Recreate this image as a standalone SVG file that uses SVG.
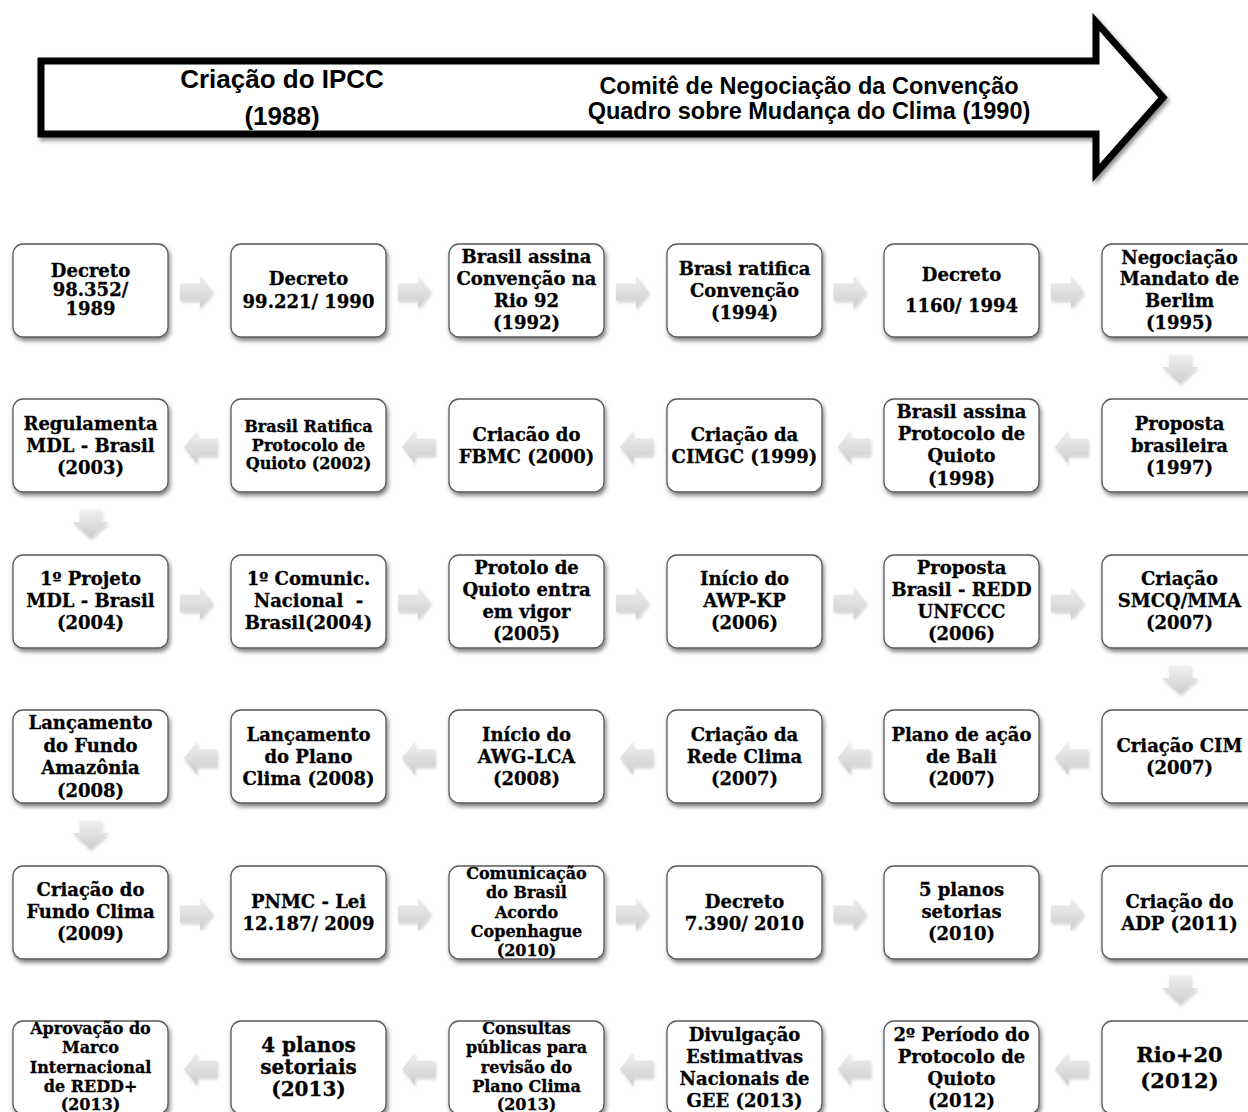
<svg xmlns="http://www.w3.org/2000/svg" width="1248" height="1112" viewBox="0 0 1248 1112">
  <defs>
    <style>
      .box { fill: #ffffff; stroke: #5a5a5a; stroke-width: 1.3; filter: url(#shadow); }
      .t { font-family: "DejaVu Serif", "Liberation Serif", serif; font-weight: bold; font-size: 18px; text-anchor: middle; fill: #000; stroke: #000; stroke-width: 0.3; }
      .s16 { font-size: 16px; }
      .s21 { font-size: 21px; }
      .s20 { font-size: 20px; }
      .head { font-family: "Liberation Sans", Arial, sans-serif; font-weight: bold; text-anchor: middle; fill: #000; }
      .conn { fill: url(#arrowGrad); filter: url(#ashadow); }
    </style>
    <filter id="shadow" x="-10%" y="-10%" width="130%" height="130%">
      <feDropShadow dx="1.5" dy="3" stdDeviation="2" flood-color="#000" flood-opacity="0.5"/>
    </filter>
    <filter id="ashadow" x="-20%" y="-20%" width="150%" height="150%">
      <feDropShadow dx="1" dy="2" stdDeviation="1.5" flood-color="#000" flood-opacity="0.18"/>
    </filter>
    <filter id="bigshadow" x="-5%" y="-10%" width="110%" height="130%">
      <feDropShadow dx="2" dy="3" stdDeviation="2" flood-color="#000" flood-opacity="0.45"/>
    </filter>
    <linearGradient id="arrowGrad" x1="0" y1="0" x2="0" y2="1">
      <stop offset="0" stop-color="#f0f0f0"/>
      <stop offset="1" stop-color="#cdcdcd"/>
    </linearGradient>
    <path id="ar" d="M-16.5,-8.5 H3.5 V-16.5 L16.5,0 L3.5,16.5 V8.5 H-16.5 Z"/>
    <path id="al" d="M16.5,-8.5 H-3.5 V-16.5 L-16.5,0 L-3.5,16.5 V8.5 H16.5 Z"/>
    <path id="ad" d="M-11,-14.5 H11 V-2 H18 L0,14.5 L-18,-2 H-11 Z"/>
  </defs>

  <rect width="1248" height="1112" fill="#ffffff"/>

  <!-- timeline banner arrow -->
  <g id="banner">
    <path d="M41,61 H1096 V22 L1163,97.5 L1096,173 V134 H41 Z" fill="#ffffff" stroke="#000" stroke-width="7" stroke-linejoin="miter" filter="url(#bigshadow)"/>
    <text class="head" font-size="26" x="282" y="88">Criação do IPCC</text>
    <text class="head" font-size="26" x="282" y="125">(1988)</text>
    <text class="head" font-size="23.5" x="809" y="94">Comitê de Negociação da Convenção</text>
    <text class="head" font-size="23.5" x="809" y="119">Quadro sobre Mudança do Clima (1990)</text>
  </g>

  <!-- connectors between timeline steps -->
  <g id="connectors">
    <!-- row 1, left to right -->
    <use href="#ar" class="conn" x="196.5" y="292"/>
    <use href="#ar" class="conn" x="414.5" y="292"/>
    <use href="#ar" class="conn" x="632.5" y="292"/>
    <use href="#ar" class="conn" x="850" y="292"/>
    <use href="#ar" class="conn" x="1067.5" y="292"/>
    <use href="#ad" class="conn" x="1180" y="369"/>
    <!-- row 2, right to left -->
    <use href="#al" class="conn" x="1071.5" y="447"/>
    <use href="#al" class="conn" x="854" y="447"/>
    <use href="#al" class="conn" x="636.5" y="447"/>
    <use href="#al" class="conn" x="418.5" y="447"/>
    <use href="#al" class="conn" x="200.5" y="447"/>
    <use href="#ad" class="conn" x="90.5" y="524"/>
    <!-- row 3 -->
    <use href="#ar" class="conn" x="196.5" y="603"/>
    <use href="#ar" class="conn" x="414.5" y="603"/>
    <use href="#ar" class="conn" x="632.5" y="603"/>
    <use href="#ar" class="conn" x="850" y="603"/>
    <use href="#ar" class="conn" x="1067.5" y="603"/>
    <use href="#ad" class="conn" x="1180" y="680"/>
    <!-- row 4 -->
    <use href="#al" class="conn" x="1071.5" y="758"/>
    <use href="#al" class="conn" x="854" y="758"/>
    <use href="#al" class="conn" x="636.5" y="758"/>
    <use href="#al" class="conn" x="418.5" y="758"/>
    <use href="#al" class="conn" x="200.5" y="758"/>
    <use href="#ad" class="conn" x="90.5" y="835"/>
    <!-- row 5 -->
    <use href="#ar" class="conn" x="196.5" y="914"/>
    <use href="#ar" class="conn" x="414.5" y="914"/>
    <use href="#ar" class="conn" x="632.5" y="914"/>
    <use href="#ar" class="conn" x="850" y="914"/>
    <use href="#ar" class="conn" x="1067.5" y="914"/>
    <use href="#ad" class="conn" x="1180" y="990"/>
    <!-- row 6 -->
    <use href="#al" class="conn" x="1071.5" y="1069"/>
    <use href="#al" class="conn" x="854" y="1069"/>
    <use href="#al" class="conn" x="636.5" y="1069"/>
    <use href="#al" class="conn" x="418.5" y="1069"/>
    <use href="#al" class="conn" x="200.5" y="1069"/>
  </g>

  <!-- row 1 -->
  <g id="n01"><rect class="box" x="13" y="244" width="155" height="93" rx="10"/>
    <text class="t"><tspan x="90.5" y="277">Decreto</tspan><tspan x="90.5" y="296">98.352/</tspan><tspan x="90.5" y="315">1989</tspan></text></g>
  <g id="n02"><rect class="box" x="231" y="244" width="155" height="93" rx="10"/>
    <text class="t"><tspan x="308.5" y="284.5">Decreto</tspan><tspan x="308.5" y="307.5">99.221/ 1990</tspan></text></g>
  <g id="n03"><rect class="box" x="449" y="244" width="155" height="93" rx="10"/>
    <text class="t"><tspan x="526.5" y="262.5">Brasil assina</tspan><tspan x="526.5" y="284.5">Convenção na</tspan><tspan x="526.5" y="306.5">Rio 92</tspan><tspan x="526.5" y="329">(1992)</tspan></text></g>
  <g id="n04"><rect class="box" x="667" y="244" width="155" height="93" rx="10"/>
    <text class="t"><tspan x="744.5" y="274.5">Brasi ratifica</tspan><tspan x="744.5" y="296.5">Convenção</tspan><tspan x="744.5" y="318.5">(1994)</tspan></text></g>
  <g id="n05"><rect class="box" x="884" y="244" width="155" height="93" rx="10"/>
    <text class="t"><tspan x="961.5" y="280.5">Decreto</tspan><tspan x="961.5" y="311.5">1160/ 1994</tspan></text></g>
  <g id="n06"><rect class="box" x="1102" y="244" width="155" height="93" rx="10"/>
    <text class="t"><tspan x="1179.5" y="263.5">Negociação</tspan><tspan x="1179.5" y="284.5">Mandato de</tspan><tspan x="1179.5" y="306.5">Berlim</tspan><tspan x="1179.5" y="329">(1995)</tspan></text></g>

  <!-- row 2 -->
  <g id="n07"><rect class="box" x="1102" y="399" width="155" height="93" rx="10"/>
    <text class="t"><tspan x="1179.5" y="429.5">Proposta</tspan><tspan x="1179.5" y="451.5">brasileira</tspan><tspan x="1179.5" y="473.5">(1997)</tspan></text></g>
  <g id="n08"><rect class="box" x="884" y="399" width="155" height="93" rx="10"/>
    <text class="t"><tspan x="961.5" y="417.5">Brasil assina</tspan><tspan x="961.5" y="439.5">Protocolo de</tspan><tspan x="961.5" y="462">Quioto</tspan><tspan x="961.5" y="484.5">(1998)</tspan></text></g>
  <g id="n09"><rect class="box" x="667" y="399" width="155" height="93" rx="10"/>
    <text class="t"><tspan x="744.5" y="440.5">Criação da</tspan><tspan x="744.5" y="462.5">CIMGC (1999)</tspan></text></g>
  <g id="n10"><rect class="box" x="449" y="399" width="155" height="93" rx="10"/>
    <text class="t"><tspan x="526.5" y="440.5">Criacão do</tspan><tspan x="526.5" y="462.5">FBMC (2000)</tspan></text></g>
  <g id="n11"><rect class="box" x="231" y="399" width="155" height="93" rx="10"/>
    <text class="t s16"><tspan x="308.5" y="432">Brasil Ratifica</tspan><tspan x="308.5" y="450.5">Protocolo de</tspan><tspan x="308.5" y="469">Quioto (2002)</tspan></text></g>
  <g id="n12"><rect class="box" x="13" y="399" width="155" height="93" rx="10"/>
    <text class="t"><tspan x="90.5" y="429.5">Regulamenta</tspan><tspan x="90.5" y="451.5">MDL - Brasil</tspan><tspan x="90.5" y="473.5">(2003)</tspan></text></g>

  <!-- row 3 -->
  <g id="n13"><rect class="box" x="13" y="555" width="155" height="93" rx="10"/>
    <text class="t"><tspan x="90.5" y="584.5">1º Projeto</tspan><tspan x="90.5" y="606.5">MDL - Brasil</tspan><tspan x="90.5" y="628.5">(2004)</tspan></text></g>
  <g id="n14"><rect class="box" x="231" y="555" width="155" height="93" rx="10"/>
    <text class="t"><tspan x="308.5" y="584.5">1º Comunic.</tspan><tspan x="308.5" y="606.5" xml:space="preserve">Nacional  -</tspan><tspan x="308.5" y="628.5">Brasil(2004)</tspan></text></g>
  <g id="n15"><rect class="box" x="449" y="555" width="155" height="93" rx="10"/>
    <text class="t"><tspan x="526.5" y="573.5">Protolo de</tspan><tspan x="526.5" y="595.5">Quioto entra</tspan><tspan x="526.5" y="617.5">em vigor</tspan><tspan x="526.5" y="640">(2005)</tspan></text></g>
  <g id="n16"><rect class="box" x="667" y="555" width="155" height="93" rx="10"/>
    <text class="t"><tspan x="744.5" y="584.5">Início do</tspan><tspan x="744.5" y="606.5">AWP-KP</tspan><tspan x="744.5" y="628.5">(2006)</tspan></text></g>
  <g id="n17"><rect class="box" x="884" y="555" width="155" height="93" rx="10"/>
    <text class="t"><tspan x="961.5" y="573.5">Proposta</tspan><tspan x="961.5" y="595.5">Brasil - REDD</tspan><tspan x="961.5" y="617.5">UNFCCC</tspan><tspan x="961.5" y="640">(2006)</tspan></text></g>
  <g id="n18"><rect class="box" x="1102" y="555" width="155" height="93" rx="10"/>
    <text class="t"><tspan x="1179.5" y="584.5">Criação</tspan><tspan x="1179.5" y="606.5">SMCQ/MMA</tspan><tspan x="1179.5" y="628.5">(2007)</tspan></text></g>

  <!-- row 4 -->
  <g id="n19"><rect class="box" x="1102" y="710" width="155" height="93" rx="10"/>
    <text class="t"><tspan x="1179.5" y="751.5">Criação CIM</tspan><tspan x="1179.5" y="773.5">(2007)</tspan></text></g>
  <g id="n20"><rect class="box" x="884" y="710" width="155" height="93" rx="10"/>
    <text class="t"><tspan x="961.5" y="740.5">Plano de ação</tspan><tspan x="961.5" y="762.5">de Bali</tspan><tspan x="961.5" y="784.5">(2007)</tspan></text></g>
  <g id="n21"><rect class="box" x="667" y="710" width="155" height="93" rx="10"/>
    <text class="t"><tspan x="744.5" y="740.5">Criação da</tspan><tspan x="744.5" y="762.5">Rede Clima</tspan><tspan x="744.5" y="784.5">(2007)</tspan></text></g>
  <g id="n22"><rect class="box" x="449" y="710" width="155" height="93" rx="10"/>
    <text class="t"><tspan x="526.5" y="740.5">Início do</tspan><tspan x="526.5" y="762.5">AWG-LCA</tspan><tspan x="526.5" y="784.5">(2008)</tspan></text></g>
  <g id="n23"><rect class="box" x="231" y="710" width="155" height="93" rx="10"/>
    <text class="t"><tspan x="308.5" y="740.5">Lançamento</tspan><tspan x="308.5" y="762.5">do Plano</tspan><tspan x="308.5" y="784.5">Clima (2008)</tspan></text></g>
  <g id="n24"><rect class="box" x="13" y="710" width="155" height="93" rx="10"/>
    <text class="t"><tspan x="90.5" y="728.5">Lançamento</tspan><tspan x="90.5" y="751.5">do Fundo</tspan><tspan x="90.5" y="773.5">Amazônia</tspan><tspan x="90.5" y="796.5">(2008)</tspan></text></g>

  <!-- row 5 -->
  <g id="n25"><rect class="box" x="13" y="866" width="155" height="93" rx="10"/>
    <text class="t"><tspan x="90.5" y="895.5">Criação do</tspan><tspan x="90.5" y="917.5">Fundo Clima</tspan><tspan x="90.5" y="940">(2009)</tspan></text></g>
  <g id="n26"><rect class="box" x="231" y="866" width="155" height="93" rx="10"/>
    <text class="t"><tspan x="308.5" y="907.5">PNMC - Lei</tspan><tspan x="308.5" y="929.5">12.187/ 2009</tspan></text></g>
  <g id="n27"><rect class="box" x="449" y="866" width="155" height="93" rx="10"/>
    <text class="t s16"><tspan x="526.5" y="879">Comunicação</tspan><tspan x="526.5" y="898">do Brasil</tspan><tspan x="526.5" y="917.5">Acordo</tspan><tspan x="526.5" y="937">Copenhague</tspan><tspan x="526.5" y="956">(2010)</tspan></text></g>
  <g id="n28"><rect class="box" x="667" y="866" width="155" height="93" rx="10"/>
    <text class="t"><tspan x="744.5" y="907.5">Decreto</tspan><tspan x="744.5" y="929.5">7.390/ 2010</tspan></text></g>
  <g id="n29"><rect class="box" x="884" y="866" width="155" height="93" rx="10"/>
    <text class="t"><tspan x="961.5" y="895.5">5 planos</tspan><tspan x="961.5" y="917.5">setorias</tspan><tspan x="961.5" y="940">(2010)</tspan></text></g>
  <g id="n30"><rect class="box" x="1102" y="866" width="155" height="93" rx="10"/>
    <text class="t"><tspan x="1179.5" y="907.5">Criação do</tspan><tspan x="1179.5" y="929.5">ADP (2011)</tspan></text></g>

  <!-- row 6 -->
  <g id="n31"><rect class="box" x="1102" y="1021" width="155" height="93" rx="10"/>
    <text class="t s21"><tspan x="1179.5" y="1062">Rio+20</tspan><tspan x="1179.5" y="1088">(2012)</tspan></text></g>
  <g id="n32"><rect class="box" x="884" y="1021" width="155" height="93" rx="10"/>
    <text class="t"><tspan x="961.5" y="1040.5">2º Período do</tspan><tspan x="961.5" y="1062.5">Protocolo de</tspan><tspan x="961.5" y="1085">Quioto</tspan><tspan x="961.5" y="1106.5">(2012)</tspan></text></g>
  <g id="n33"><rect class="box" x="667" y="1021" width="155" height="93" rx="10"/>
    <text class="t"><tspan x="744.5" y="1040.5">Divulgação</tspan><tspan x="744.5" y="1062.5">Estimativas</tspan><tspan x="744.5" y="1085">Nacionais de</tspan><tspan x="744.5" y="1106.5">GEE (2013)</tspan></text></g>
  <g id="n34"><rect class="box" x="449" y="1021" width="155" height="93" rx="10"/>
    <text class="t s16"><tspan x="526.5" y="1034">Consultas</tspan><tspan x="526.5" y="1053">públicas para</tspan><tspan x="526.5" y="1072.5">revisão do</tspan><tspan x="526.5" y="1092">Plano Clima</tspan><tspan x="526.5" y="1110">(2013)</tspan></text></g>
  <g id="n35"><rect class="box" x="231" y="1021" width="155" height="93" rx="10"/>
    <text class="t s20"><tspan x="308.5" y="1051.5">4 planos</tspan><tspan x="308.5" y="1073.5">setoriais</tspan><tspan x="308.5" y="1095.5">(2013)</tspan></text></g>
  <g id="n36"><rect class="box" x="13" y="1021" width="155" height="93" rx="10"/>
    <text class="t s16"><tspan x="90.5" y="1034">Aprovação do</tspan><tspan x="90.5" y="1053">Marco</tspan><tspan x="90.5" y="1072.5">Internacional</tspan><tspan x="90.5" y="1092">de REDD+</tspan><tspan x="90.5" y="1110">(2013)</tspan></text></g>
</svg>
